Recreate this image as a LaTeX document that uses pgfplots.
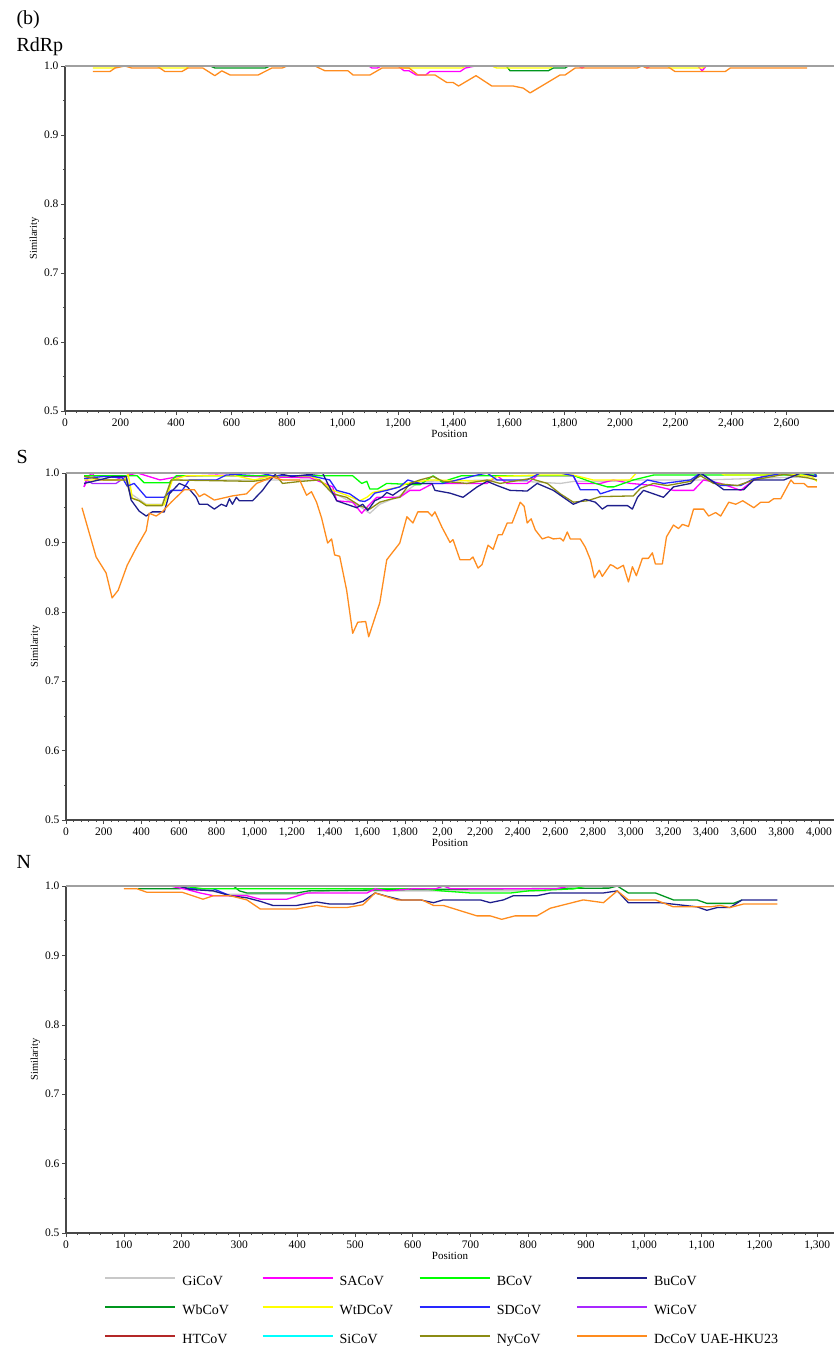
\documentclass[border=0pt]{standalone}
\usepackage{pgfplots}
\pgfplotsset{compat=1.18}
\usepackage{fontspec}
\setmainfont{Liberation Serif}
\definecolor{cGi}{HTML}{C8C8C8}
\definecolor{cSA}{HTML}{FF00FF}
\definecolor{cB}{HTML}{00FF00}
\definecolor{cBu}{HTML}{1E1E8C}
\definecolor{cWb}{HTML}{00961E}
\definecolor{cWtD}{HTML}{FFFF00}
\definecolor{cSD}{HTML}{2828FF}
\definecolor{cWi}{HTML}{A828FF}
\definecolor{cHT}{HTML}{B42828}
\definecolor{cSi}{HTML}{00FFFF}
\definecolor{cNy}{HTML}{8C8C14}
\definecolor{cDc}{HTML}{FF8C1E}
\definecolor{axgray}{HTML}{484848}
\definecolor{topgray}{HTML}{A0A0A0}
\pgfplotsset{
  panel/.style={
    scale only axis,
    axis x line*=bottom, axis y line*=left,
    axis line style={axgray, line width=1.8pt},
    ymin=0.5, ymax=1.0,
    ytick={0.5,0.6,0.7,0.8,0.9,1.0},
    minor y tick num=1,
    minor x tick num=4,
    tick align=outside,
    tick style={axgray, line width=0.5pt},
    major tick length=4pt, minor tick length=2pt,
    enlargelimits=false, clip=false,
    /pgf/number format/assume math mode=true,
    ticklabel style={font=\fontsize{11.5}{13}\selectfont},
    yticklabel style={xshift=1pt, /pgf/number format/fixed, /pgf/number format/fixed zerofill, /pgf/number format/precision=1},
    ylabel={Similarity},
    ylabel style={font=\fontsize{10.5}{12}\selectfont, yshift=-2pt},
    xlabel={Position},
    xlabel style={font=\fontsize{11}{13}\selectfont, yshift=5pt},
    every axis plot/.append style={line width=1.3pt, line join=round},
  },
  topline/.style={topgray, line width=1.6pt, forget plot},
}
\begin{document}
\begin{tikzpicture}
\useasboundingbox (0pt,0pt) rectangle (834pt,-1349pt);
\node[anchor=west, font=\fontsize{20}{24}\selectfont] at (13pt,-20pt) {(b)};
\node[anchor=west, font=\fontsize{20}{24}\selectfont] at (13pt,-47pt) {RdRp};
\node[anchor=west, font=\fontsize{20}{24}\selectfont] at (13pt,-457pt) {S};
\node[anchor=west, font=\fontsize{20}{24}\selectfont] at (13pt,-862pt) {N};

% ---------------- RdRp ----------------
\begin{axis}[panel, at={(65pt,-411pt)}, anchor=south west,
  width=769pt, height=345pt, xmin=0, xmax=2771,
  xtick={0,200,...,2600},
  xticklabels={0,200,400,600,800,{1,000},{1,200},{1,400},{1,600},{1,800},{2,000},{2,200},{2,400},{2,600}}]
\addplot[cWb] coordinates {(100,1)(523,1)(541,0.997)(721,0.997)(739,1.0)(1590,1.0)(1604,0.993)(1741,0.993)(1759,0.997)(1802,0.997)(1813,1.0)(2674,1.0)};
\addplot[cSA] coordinates {(100,1)(1095,1)(1106,0.997)(1125,0.997)(1140,1.0)(1200,1.0)(1222,0.993)(1240,0.993)(1265,0.987)(1300,0.987)(1315,0.992)(1424,0.992)(1442,0.997)(1478,1.0)(1850,1.0)(1863,0.997)(1875,1.0)(2085,1.0)(2097,0.997)(2110,1.0)(2280,1.0)(2296,0.993)(2310,1.0)(2674,1.0)};
\addplot[cWtD] coordinates {(100,0.997)(175,0.997)(200,1.0)(330,1.0)(342,0.997)(436,0.997)(450,1.0)(1200,1.0)(1215,0.997)(1430,0.997)(1445,1.0)(1538,1.0)(1556,0.997)(1748,0.997)(1760,1.0)(2170,1.0)(2180,0.997)(2296,0.997)(2310,1.0)(2674,1.0)};
\addplot[cDc] coordinates {(100,0.992)(162,0.992)(180,0.997)(216,1.0)(241,0.997)(342,0.997)(360,0.992)(421,0.992)(443,0.997)(497,0.997)(540,0.986)(565,0.993)(595,0.987)(696,0.987)(745,0.997)(782,0.997)(800,1.0)(901,1.0)(937,0.993)(1020,0.993)(1038,0.987)(1099,0.987)(1142,0.997)(1240,0.997)(1272,0.987)(1333,0.987)(1376,0.976)(1399,0.976)(1418,0.971)(1481,0.986)(1538,0.971)(1615,0.971)(1651,0.968)(1676,0.961)(1784,0.987)(1802,0.987)(1838,0.997)(2061,0.997)(2079,1.0)(2097,0.997)(2180,0.997)(2198,0.992)(2379,0.992)(2397,0.997)(2674,0.997)};
\addplot[topline] coordinates {(0,1)(2771,1)};
\end{axis}

% ---------------- S ----------------
\begin{axis}[panel, at={(66pt,-820pt)}, anchor=south west,
  width=768pt, height=347pt, xmin=0, xmax=4080,
  xtick={0,200,...,4000},
  xticklabels={0,200,400,600,800,{1,000},{1,200},{1,400},{1,600},{1,800},{2,00},{2,200},{2,400},{2,600},{2,800},{3,000},{3,200},{3,400},{3,600},{3,800},{4,000}}]
\addplot[cGi] coordinates {(96,0.995)(320,0.995)(346,0.970)(426,0.955)(511,0.955)(559,0.990)(1000,0.990)(1347,0.990)(1417,0.972)(1560,0.952)(1614,0.942)(1667,0.955)(1773,0.967)(1880,0.988)(2300,0.990)(2626,0.985)(2700,0.988)(2900,0.988)(3000,0.990)(3400,0.990)(3989,0.995)};
\addplot[cWi] coordinates {(96,0.980)(107,0.990)(140,0.985)(266,0.985)(320,0.995)(360,1.0)(3989,1.0)};
\addplot[cWb] coordinates {(96,1.0)(3989,1.0)};
\addplot[cSA] coordinates {(96,0.980)(122,0.996)(140,1.0)(160,0.990)(266,0.990)(300,0.995)(380,1.0)(500,0.990)(600,0.995)(800,0.997)(1000,0.995)(1300,0.993)(1417,0.980)(1438,0.960)(1523,0.958)(1571,0.942)(1603,0.952)(1651,0.965)(1773,0.965)(1827,0.975)(1880,0.975)(1950,0.985)(2237,0.985)(2290,0.996)(2343,0.985)(2450,0.985)(2503,0.996)(2695,0.996)(2716,0.985)(2839,0.985)(2908,0.990)(2999,0.985)(3121,0.982)(3227,0.975)(3334,0.975)(3387,0.990)(3478,0.985)(3584,0.975)(3654,0.990)(3750,1.0)(3989,1.0)};
\addplot[cB] coordinates {(96,0.996)(378,0.996)(415,0.986)(549,0.986)(586,0.996)(1523,0.996)(1571,0.985)(1598,0.988)(1614,0.977)(1656,0.977)(1704,0.985)(1880,0.983)(1950,0.996)(2003,0.986)(2030,0.990)(2100,0.996)(2700,0.996)(2801,0.986)(2876,0.980)(2910,0.980)(3014,0.990)(3121,0.997)(3989,0.997)};
\addplot[cWtD] coordinates {(96,0.990)(309,0.990)(330,0.998)(346,0.975)(352,0.964)(389,0.960)(426,0.954)(522,0.954)(565,0.990)(639,0.996)(900,0.996)(1000,0.990)(1100,0.996)(1300,0.995)(1347,0.990)(1417,0.975)(1491,0.968)(1560,0.960)(1598,0.965)(1630,0.972)(1683,0.975)(1773,0.980)(1811,0.985)(1933,0.990)(2237,0.988)(2290,0.995)(2500,0.997)(2695,0.997)(2800,0.990)(2996,0.990)(3030,1.0)(3478,1.0)(3500,0.997)(3780,0.997)(3814,1.0)(3960,0.995)(3989,0.988)};
\addplot[cSD] coordinates {(96,0.992)(200,0.995)(300,0.993)(325,0.981)(362,0.985)(426,0.965)(522,0.965)(559,0.975)(618,0.975)(655,0.990)(799,0.990)(850,0.997)(1028,1.0)(1100,0.996)(1300,0.996)(1401,0.990)(1438,0.975)(1507,0.970)(1560,0.960)(1587,0.959)(1614,0.963)(1640,0.971)(1704,0.975)(1773,0.980)(1816,0.990)(1880,0.985)(2003,0.985)(2184,0.997)(2237,1.0)(2290,0.990)(2450,0.990)(2519,1.0)(2626,1.0)(2695,0.996)(2732,0.976)(2823,0.976)(2839,0.970)(2908,0.976)(3014,0.976)(3089,0.990)(3174,0.985)(3318,0.990)(3371,1.0)(3424,0.990)(3478,0.982)(3584,0.982)(3654,0.992)(3814,1.0)(3973,1.0)(3989,0.995)};
\addplot[cNy] coordinates {(96,0.995)(200,0.990)(320,0.990)(346,0.964)(389,0.960)(426,0.953)(511,0.953)(559,0.990)(991,0.988)(1050,0.990)(1118,0.996)(1150,0.985)(1250,0.988)(1347,0.990)(1417,0.970)(1491,0.965)(1560,0.953)(1614,0.948)(1667,0.958)(1720,0.962)(1773,0.965)(1827,0.985)(1880,0.990)(1950,0.995)(2003,0.988)(2130,0.985)(2237,0.990)(2306,0.985)(2466,0.992)(2557,0.985)(2626,0.970)(2695,0.958)(2770,0.960)(2839,0.966)(3014,0.967)(3052,0.978)(3121,0.985)(3195,0.982)(3318,0.988)(3371,0.996)(3440,0.985)(3568,0.982)(3654,0.990)(3814,0.998)(3941,0.993)(3989,0.990)};
\addplot[cBu] coordinates {(96,0.985)(176,0.990)(250,0.995)(320,0.995)(346,0.961)(389,0.945)(426,0.938)(458,0.944)(522,0.944)(549,0.970)(602,0.985)(645,0.980)(692,0.965)(708,0.955)(751,0.955)(788,0.948)(825,0.955)(852,0.952)(868,0.963)(884,0.955)(905,0.965)(921,0.960)(991,0.960)(1044,0.975)(1071,0.985)(1118,1.0)(1200,0.995)(1363,1.0)(1390,0.985)(1438,0.960)(1491,0.955)(1544,0.950)(1576,0.955)(1603,0.946)(1640,0.960)(1678,0.965)(1704,0.972)(1736,0.968)(1773,0.975)(1843,0.985)(1944,0.985)(1960,0.975)(2040,0.971)(2109,0.965)(2184,0.980)(2237,0.988)(2290,0.982)(2359,0.975)(2450,0.974)(2503,0.985)(2589,0.975)(2695,0.955)(2759,0.962)(2812,0.958)(2849,0.948)(2876,0.953)(2983,0.953)(3009,0.948)(3036,0.965)(3068,0.975)(3121,0.970)(3174,0.965)(3227,0.980)(3318,0.985)(3371,1.0)(3408,0.993)(3494,0.976)(3600,0.976)(3654,0.990)(3814,0.990)(3904,1.0)(3984,0.995)};
\addplot[cDc] coordinates {(85,0.950)(160,0.879)(213,0.856)(245,0.820)(277,0.831)(325,0.867)(373,0.892)(426,0.917)(442,0.942)(479,0.938)(511,0.944)(559,0.958)(628,0.976)(682,0.976)(708,0.966)(735,0.970)(788,0.961)(884,0.967)(959,0.970)(1012,0.985)(1097,0.994)(1150,0.990)(1241,0.990)(1278,0.968)(1304,0.973)(1331,0.958)(1358,0.935)(1390,0.899)(1411,0.905)(1427,0.882)(1454,0.880)(1491,0.831)(1523,0.769)(1550,0.785)(1592,0.786)(1608,0.764)(1667,0.813)(1704,0.875)(1773,0.899)(1811,0.937)(1843,0.928)(1869,0.944)(1923,0.944)(1944,0.938)(1960,0.944)(1997,0.922)(2040,0.900)(2056,0.904)(2093,0.875)(2146,0.875)(2162,0.879)(2189,0.863)(2210,0.868)(2242,0.896)(2269,0.890)(2296,0.911)(2317,0.911)(2344,0.928)(2370,0.928)(2413,0.958)(2434,0.952)(2450,0.928)(2471,0.934)(2493,0.918)(2530,0.905)(2562,0.908)(2589,0.905)(2626,0.906)(2642,0.902)(2663,0.915)(2679,0.905)(2732,0.905)(2759,0.893)(2786,0.875)(2807,0.849)(2833,0.860)(2849,0.851)(2892,0.868)(2908,0.866)(2929,0.862)(2961,0.867)(2988,0.843)(3009,0.865)(3030,0.852)(3062,0.877)(3094,0.877)(3115,0.885)(3131,0.869)(3168,0.869)(3190,0.908)(3227,0.925)(3254,0.920)(3275,0.926)(3307,0.923)(3334,0.948)(3387,0.948)(3414,0.938)(3451,0.943)(3478,0.938)(3521,0.958)(3558,0.955)(3595,0.960)(3654,0.950)(3691,0.958)(3734,0.958)(3760,0.963)(3797,0.963)(3851,0.990)(3867,0.985)(3920,0.985)(3941,0.980)(3989,0.980)};
\addplot[topline] coordinates {(0,1)(4080,1)};
\end{axis}

% ---------------- N ----------------
\begin{axis}[panel, at={(66pt,-1233pt)}, anchor=south west,
  width=768pt, height=347pt, xmin=0, xmax=1329,
  xtick={0,100,...,1300},
  xticklabels={0,100,200,300,400,500,600,700,800,900,{1,000},{1,100},{1,200},{1,300}},
  legend columns=4, legend cell align=left,
  legend style={draw=none, fill=none, inner sep=0pt, at={(0.0495,-0.1225)}, anchor=north west,
    font=\fontsize{14}{16}\selectfont, row sep=16pt, column sep=0pt,
    nodes={inner sep=0pt, text height=10pt, text depth=3pt}},
  /tikz/every odd column/.append style={column sep=6pt},
  legend image code/.code={\draw[#1, line width=2.2pt] (0pt,4pt) -- (70pt,4pt);}]
\addplot[cGi, forget plot] coordinates {(200,1.0)(250,0.993)(280,0.988)(400,0.988)(450,0.993)(830,0.993)(870,1.0)};
\addplot[cSD, forget plot] coordinates {(190,1.0)(215,0.996)(255,0.996)(284,0.986)};
\addplot[cWb, forget plot] coordinates {(125,0.996)(197,0.996)(210,1.0)(290,1.0)(300,0.993)(313,0.990)(400,0.990)(420,0.993)(600,0.995)(940,0.997)(954,1.0)(973,0.990)(1020,0.990)(1051,0.980)(1092,0.980)(1109,0.975)(1155,0.975)(1170,0.980)};
\addplot[cB, forget plot] coordinates {(200,1.0)(238,0.996)(620,0.996)(650,0.993)(700,0.990)(770,0.990)(800,0.993)(880,0.996)(900,1.0)};
\addplot[cSA, forget plot] coordinates {(170,1.0)(180,1.0)(209,0.995)(232,0.990)(255,0.986)(313,0.986)(336,0.981)(382,0.981)(417,0.990)(521,0.990)(535,0.996)(556,0.993)(600,0.996)(640,0.996)(653,1.0)(666,0.996)(849,0.996)(872,1.0)};
\addplot[cBu, forget plot] coordinates {(180,1.0)(197,1.0)(215,0.995)(255,0.993)(284,0.986)(313,0.983)(336,0.978)(358,0.972)(399,0.972)(434,0.977)(457,0.974)(497,0.974)(514,0.978)(535,0.990)(556,0.985)(580,0.980)(613,0.980)(636,0.976)(653,0.980)(717,0.980)(734,0.976)(757,0.980)(774,0.986)(815,0.986)(838,0.990)(930,0.990)(954,0.993)(973,0.976)(1028,0.976)(1092,0.970)(1109,0.965)(1127,0.969)(1149,0.969)(1170,0.980)(1231,0.980)};
\addplot[cDc, forget plot] coordinates {(100,0.996)(123,0.996)(140,0.991)(201,0.991)(237,0.981)(255,0.986)(284,0.986)(313,0.980)(336,0.967)(399,0.967)(434,0.972)(457,0.969)(486,0.969)(514,0.973)(535,0.990)(573,0.980)(616,0.980)(636,0.972)(653,0.972)(711,0.957)(734,0.957)(754,0.952)(777,0.957)(815,0.957)(838,0.968)(895,0.980)(930,0.976)(954,0.993)(973,0.980)(1020,0.980)(1051,0.970)(1115,0.970)(1132,0.972)(1149,0.969)(1172,0.974)(1231,0.974)};
\addplot[topline] coordinates {(0,1)(1329,1)};
\addlegendimage{cGi}\addlegendentry{\makebox[79pt][l]{GiCoV}}
\addlegendimage{cSA}\addlegendentry{\makebox[79pt][l]{SACoV}}
\addlegendimage{cB}\addlegendentry{\makebox[79pt][l]{BCoV}}
\addlegendimage{cBu}\addlegendentry{\makebox[79pt][l]{BuCoV}}
\addlegendimage{cWb}\addlegendentry{\makebox[79pt][l]{WbCoV}}
\addlegendimage{cWtD}\addlegendentry{\makebox[79pt][l]{WtDCoV}}
\addlegendimage{cSD}\addlegendentry{\makebox[79pt][l]{SDCoV}}
\addlegendimage{cWi}\addlegendentry{\makebox[79pt][l]{WiCoV}}
\addlegendimage{cHT}\addlegendentry{\makebox[79pt][l]{HTCoV}}
\addlegendimage{cSi}\addlegendentry{\makebox[79pt][l]{SiCoV}}
\addlegendimage{cNy}\addlegendentry{\makebox[79pt][l]{NyCoV}}
\addlegendimage{cDc}\addlegendentry{DcCoV UAE-HKU23}
\end{axis}
\end{tikzpicture}
\end{document}
